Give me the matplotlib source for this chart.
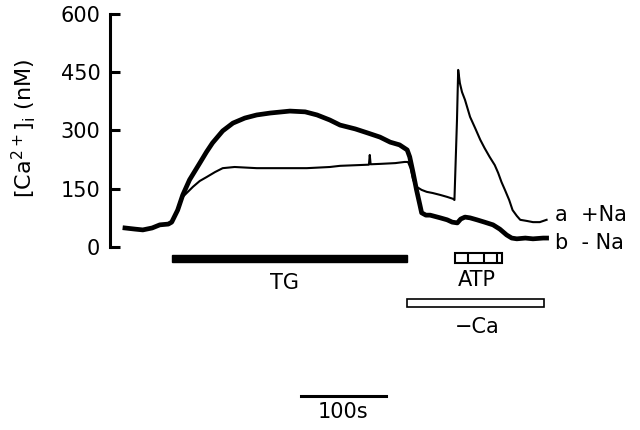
import matplotlib
matplotlib.use("Agg")
import matplotlib.pyplot as plt
from matplotlib.patches import Rectangle

# trace b : -Na (thick)
t_b = [0, 12, 21, 32, 41, 51, 55, 62, 68, 76, 88, 96, 103, 115, 127, 141, 155,
       171, 194, 212, 226, 241, 253, 271, 285, 300, 312, 323, 332, 335, 339,
       343, 347, 349, 354, 359, 371, 379, 385, 391, 395, 400, 406, 414, 423,
       433, 441, 449, 455, 461, 471, 480, 492, 496]
ca_b = [49, 46, 44, 49, 57, 59, 64, 95, 134, 173, 216, 245, 268, 299, 319, 332,
        340, 345, 350, 348, 340, 327, 314, 304, 294, 283, 270, 263, 250, 232,
        191, 147, 108, 88, 82, 82, 75, 70, 64, 62, 72, 77, 75, 70, 64, 57, 46,
        31, 23, 21, 23, 21, 23, 23]

# trace a : +Na (thin)
t_a = [0, 12, 21, 32, 41, 51, 55, 62, 68, 80, 88, 96, 106, 115, 129, 155, 182,
       214, 241, 253, 276, 287, 288, 289, 300, 318, 329, 333, 336, 339, 343,
       349, 355, 362, 371, 379, 386, 387.6, 390.6, 392, 394, 396.5, 400, 406,
       412, 418, 423, 429, 435, 439, 443, 447, 452, 456, 461, 465, 473, 480,
       488, 496]
ca_a = [49, 46, 44, 49, 57, 59, 64, 95, 129, 155, 170, 180, 193, 203, 206, 203,
        203, 203, 206, 209, 211, 212, 237, 213, 214, 216, 219, 219, 203, 173,
        155, 147, 142, 139, 134, 129, 124, 121, 327, 456, 422, 399, 379, 335,
        306, 276, 255, 232, 211, 191, 167, 147, 121, 95, 80, 70, 67, 64, 64, 70]

y_ticks = [0, 150, 300, 450, 600]

tg_period = (55, 332)
atp_period = (388, 443)
atp_marks = [404, 422, 438]
ca_free_period = (332, 493)
scale_bar = (207, 307)

fig = plt.figure(figsize=(6.4, 4.3), dpi=100)
ax = fig.add_axes([110 / 640, 0, 530 / 640, 1 - 14 / 430])
ax.set_xlim(-17.6, 605.9)
ax.set_ylim(-471.3, 600)

ax.plot(t_b, ca_b, color="black", lw=3.4)
ax.plot(t_a, ca_a, color="black", lw=1.5)

for s in ["top", "right", "bottom"]:
    ax.spines[s].set_visible(False)
ax.spines["left"].set_bounds(0, 600)
ax.spines["left"].set_linewidth(2.2)
ax.set_xticks([])
ax.set_yticks(y_ticks)
ax.tick_params(axis="y", direction="in", length=7.5, width=2.2, pad=7,
               labelsize=15)
ax.set_ylabel("[Ca$^{2+}$]$_\\mathregular{i}$ (nM)", fontsize=16)
ax.yaxis.set_label_coords(-0.135, 0.725)

# bars
ax.add_patch(Rectangle((tg_period[0], -38.6), tg_period[1] - tg_period[0], 18,
                       facecolor="black", edgecolor="black", lw=1, clip_on=False))
ax.add_patch(Rectangle((atp_period[0], -41), atp_period[1] - atp_period[0], 25.5,
                       facecolor="white", edgecolor="black", lw=1.5, clip_on=False))
ax.vlines(atp_marks, -41, -15.5, color="black", lw=1.5)
ax.add_patch(Rectangle((ca_free_period[0], -154.5),
                       ca_free_period[1] - ca_free_period[0], 20.5,
                       facecolor="white", edgecolor="black", lw=1.2, clip_on=False))
ax.plot(scale_bar, [-384, -384], color="black", lw=2.2, clip_on=False)

ax.text(188, -93, "TG", ha="center", va="center", fontsize=15)
ax.text(414, -86, "ATP", ha="center", va="center", fontsize=15)
ax.text(414, -206, "\u2212Ca", ha="center", va="center", fontsize=15)
ax.text(257, -425, "100s", ha="center", va="center", fontsize=15)
ax.text(506, 82, "a  +Na", ha="left", va="center", fontsize=15)
ax.text(506, 10, "b  - Na", ha="left", va="center", fontsize=15)

fig.savefig("out.png", dpi=100)
